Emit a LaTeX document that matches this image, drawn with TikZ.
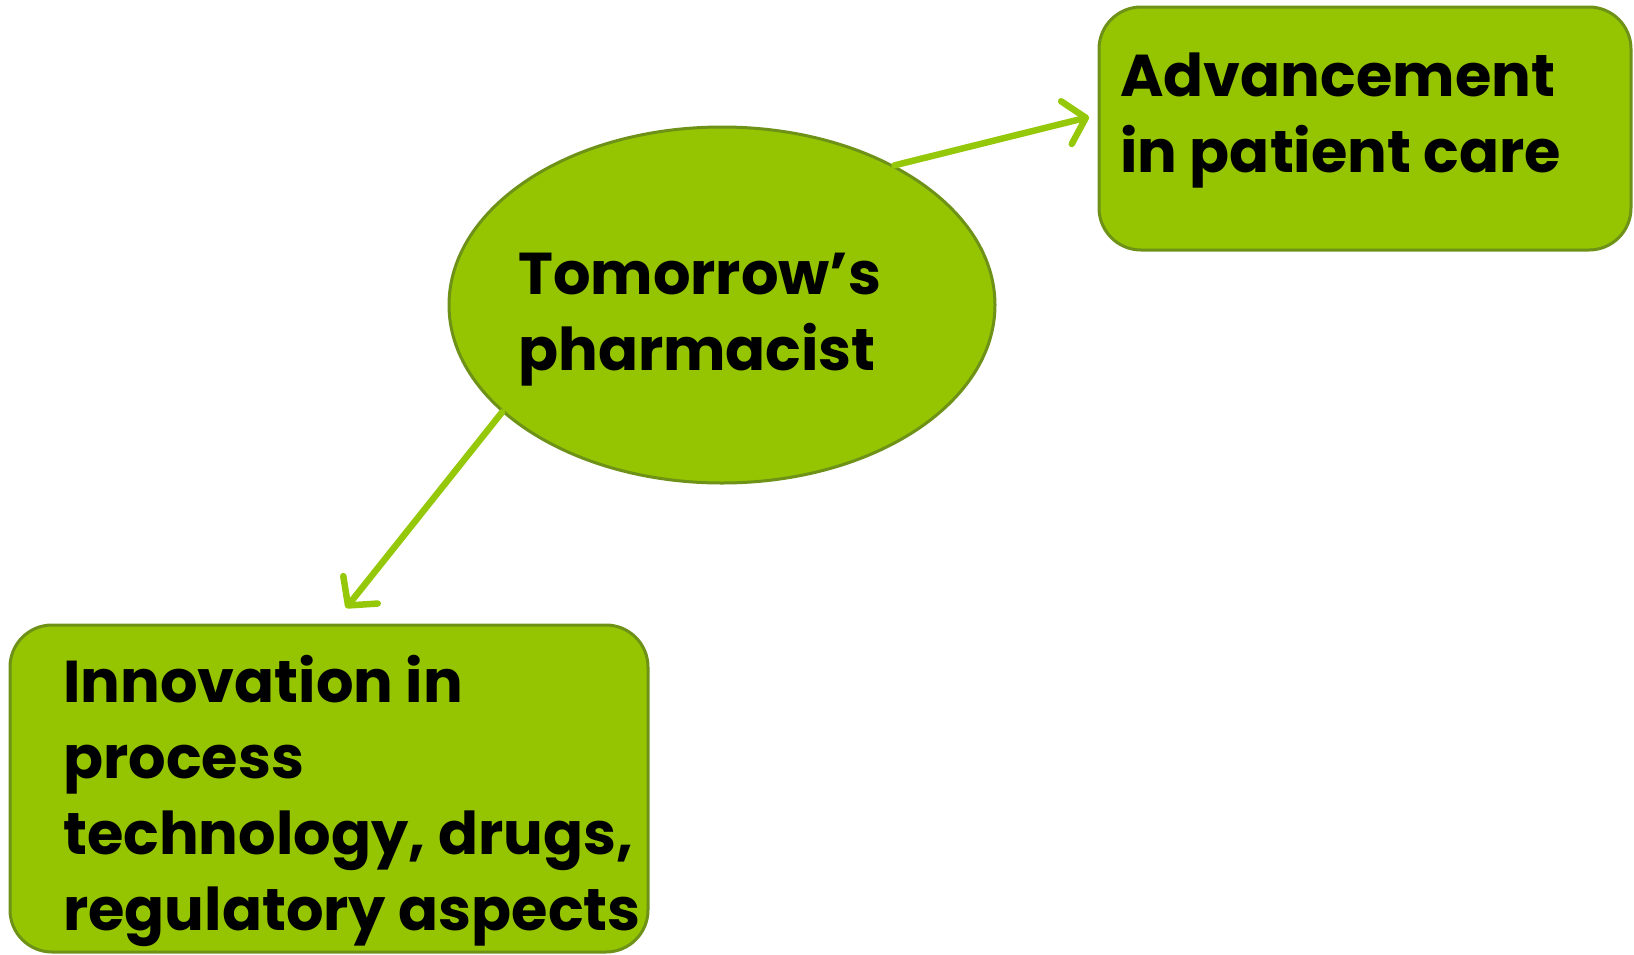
\documentclass[tikz,border=0pt]{standalone}
\usepackage{fontspec}
\setmainfont{Poppins}[BoldFont={* Bold}]
\usetikzlibrary{shapes.geometric,arrows.meta}
\definecolor{boxfill}{RGB}{148,197,0}
\definecolor{boxline}{RGB}{110,145,24}
\definecolor{arrowcol}{RGB}{150,200,10}
\tikzset{
  greenbox/.style={draw=boxline, line width=3pt, fill=boxfill, rounded corners=42pt, rectangle, inner sep=0pt},
  bigtext/.style={font=\fontsize{59}{76}\selectfont\bfseries, align=left, inner sep=0pt, anchor=base west, text=black},
  link/.style={draw=arrowcol, line width=6.5pt, line cap=round, -{Straight Barb[length=20pt, width=44pt, round]}}
}
\begin{document}
\begin{tikzpicture}[x=1pt,y=-1pt]
\useasboundingbox (0,0) rectangle (1634,954);
\node[greenbox, minimum width=532pt, minimum height=243pt] (adv) at (1365,128.5) {};
\node[greenbox, minimum width=638pt, minimum height=327pt] (inn) at (329,788.5) {};
\node[ellipse, draw=boxline, line width=3pt, fill=boxfill, minimum width=546pt, minimum height=356pt, inner sep=0pt] (tp) at (722,305) {};
\node[bigtext] (advt) at (1120,172) {Advancement\\in patient care};
\node[bigtext] (tpt) at (518,370) {Tomorrow’s\\pharmacist};
\node[bigtext] (innt) at (63,930) {Innovation in\\process\\technology, drugs,\\regulatory aspects};
\coordinate (advend) at (1089,117);
\coordinate (innend) at (346,608);
\draw[link] (tp.39) -- (advend);
\draw[link] (tp.206) -- (innend);
\end{tikzpicture}
\end{document}
